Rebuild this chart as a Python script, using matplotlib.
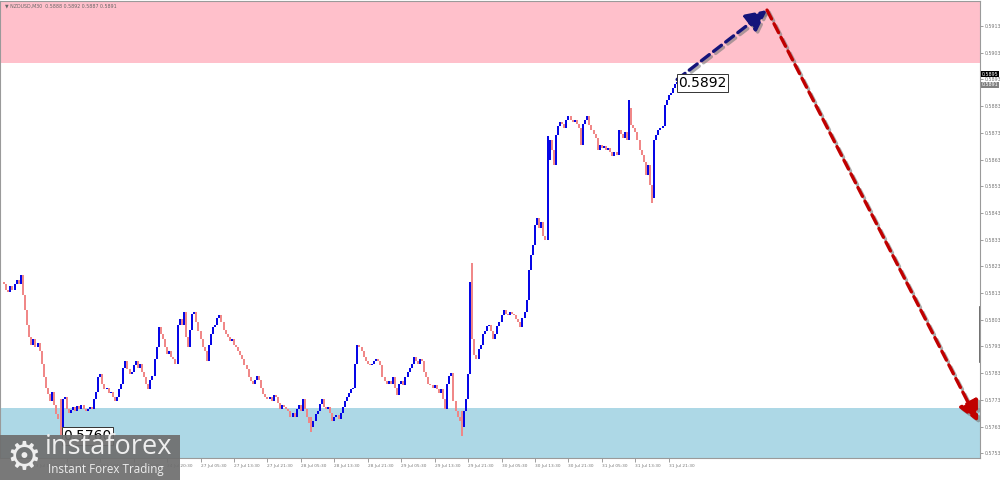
import matplotlib.pyplot as plt
import matplotlib.patheffects as pe
import matplotlib.transforms as mtransforms
from matplotlib.patches import Rectangle

# NZDUSD M30 closing prices
closes = [
    0.58173, 0.58162, 0.58143, 0.58135, 0.58158, 0.58143, 0.58165, 0.58177, 0.58162, 0.58199,
    0.58124, 0.58068, 0.58012, 0.57967, 0.57937, 0.57956, 0.57926, 0.57941, 0.57911, 0.57863,
    0.57814, 0.57776, 0.57750, 0.57724, 0.57761, 0.57709, 0.57676, 0.57657, 0.57627, 0.57732,
    0.57739, 0.57694, 0.57679, 0.57691, 0.57702, 0.57687, 0.57705, 0.57694, 0.57709, 0.57694,
    0.57687, 0.57694, 0.57702, 0.57694, 0.57732, 0.57761, 0.57814, 0.57825, 0.57788, 0.57769,
    0.57776, 0.57754, 0.57761, 0.57739, 0.57724, 0.57739, 0.57769, 0.57788, 0.57851, 0.57874,
    0.57844, 0.57825, 0.57836, 0.57859, 0.57874, 0.57851, 0.57866, 0.57836, 0.57814, 0.57788,
    0.57769, 0.57806, 0.57821, 0.57881, 0.57926, 0.58001, 0.57975, 0.57956, 0.57926, 0.57900,
    0.57911, 0.57889, 0.57881, 0.57866, 0.58012, 0.58031, 0.58012, 0.58060, 0.57964, 0.57926,
    0.57993, 0.58053, 0.58060, 0.58023, 0.57986, 0.57956, 0.57926, 0.57911, 0.57874, 0.57937,
    0.57975, 0.58001, 0.58012, 0.58038, 0.58046, 0.58023, 0.57993, 0.57978, 0.57964, 0.57949,
    0.57956, 0.57937, 0.57926, 0.57911, 0.57896, 0.57881, 0.57859, 0.57844, 0.57814, 0.57799,
    0.57791, 0.57806, 0.57821, 0.57806, 0.57776, 0.57750, 0.57739, 0.57732, 0.57739, 0.57724,
    0.57747, 0.57739, 0.57717, 0.57694, 0.57709, 0.57702, 0.57694, 0.57687, 0.57664, 0.57679,
    0.57664, 0.57694, 0.57709, 0.57687, 0.57732, 0.57694, 0.57664, 0.57642, 0.57627, 0.57649,
    0.57676, 0.57687, 0.57713, 0.57732, 0.57702, 0.57694, 0.57702, 0.57679, 0.57649, 0.57664,
    0.57672, 0.57657, 0.57679, 0.57702, 0.57724, 0.57739, 0.57754, 0.57769, 0.57776, 0.57863,
    0.57937, 0.57926, 0.57911, 0.57889, 0.57874, 0.57866, 0.57859, 0.57863, 0.57874, 0.57881,
    0.57874, 0.57859, 0.57814, 0.57799, 0.57791, 0.57799, 0.57788, 0.57814, 0.57776, 0.57747,
    0.57791, 0.57799, 0.57784, 0.57814, 0.57836, 0.57851, 0.57866, 0.57889, 0.57874, 0.57863,
    0.57881, 0.57874, 0.57836, 0.57814, 0.57791, 0.57784, 0.57776, 0.57784, 0.57769, 0.57754,
    0.57769, 0.57732, 0.57694, 0.57788, 0.57821, 0.57829, 0.57724, 0.57687, 0.57664, 0.57649,
    0.57627, 0.57687, 0.57732, 0.57825, 0.58173, 0.57956, 0.57896, 0.57881, 0.57919, 0.57934,
    0.57975, 0.57986, 0.58008, 0.58012, 0.57986, 0.57956, 0.57975, 0.58008, 0.58023, 0.58046,
    0.58068, 0.58053, 0.58049, 0.58060, 0.58053, 0.58046, 0.58031, 0.58023, 0.58001, 0.58038,
    0.58060, 0.58105, 0.58218, 0.58274, 0.58311, 0.58386, 0.58412, 0.58375, 0.58397, 0.58345,
    0.58330, 0.58629, 0.58704, 0.58666, 0.58610, 0.58723, 0.58756, 0.58771, 0.58764, 0.58749,
    0.58779, 0.58794, 0.58779, 0.58771, 0.58779, 0.58764, 0.58749, 0.58685, 0.58764, 0.58779,
    0.58794, 0.58760, 0.58741, 0.58726, 0.58711, 0.58666, 0.58685, 0.58674, 0.58681, 0.58666,
    0.58674, 0.58659, 0.58644, 0.58659, 0.58648, 0.58741, 0.58726, 0.58711, 0.58734, 0.58704,
    0.58824, 0.58760, 0.58749, 0.58734, 0.58704, 0.58666, 0.58648, 0.58622, 0.58573, 0.58610,
    0.58536, 0.58487, 0.58704, 0.58723, 0.58741, 0.58749, 0.58756, 0.58835, 0.58854, 0.58872,
    0.58880, 0.58898, 0.58913, 0.58920,
]

# bars whose wick sticks out past the open/close range
spike_bars = [28, 148, 220, 225, 261, 300, 311]
spike_highs = [0.57732, 0.57664, 0.57687, 0.58244, 0.58719, 0.58854, 0.58536]
spike_lows = [0.57600, 0.57608, 0.57593, 0.57956, 0.58330, 0.58760, 0.58468]

# target zones
sell_zone = (0.5899, 0.59224)
buy_zone = (0.57512, 0.5770)

# forecast arrows: (bar, price)
wave_up = [(323, 0.5893), (366, 0.5919)]
wave_down = [(366, 0.5919), (467, 0.57647)]

price_ticks = [0.5753, 0.5763, 0.5773, 0.5783, 0.5793, 0.5803, 0.5813, 0.5823,
               0.5833, 0.5843, 0.5853, 0.5863, 0.5873, 0.5883, 0.5893, 0.5903, 0.5913]
date_bars = [15, 31, 47, 63, 79, 95, 111, 127, 143, 159, 175, 191,
             207, 223, 239, 255, 271, 287, 303, 319]
date_labels = ['23 Jul 12:30', '23 Jul 20:30', '24 Jul 04:30', '24 Jul 12:30',
               '24 Jul 20:30', '27 Jul 05:30', '27 Jul 13:30', '27 Jul 21:30',
               '28 Jul 05:30', '28 Jul 13:30', '28 Jul 21:30', '29 Jul 05:30',
               '29 Jul 13:30', '29 Jul 21:30', '30 Jul 05:30', '30 Jul 13:30',
               '30 Jul 21:30', '31 Jul 05:30', '31 Jul 13:30', '31 Jul 21:30']

fig = plt.figure(figsize=(10, 4.8), dpi=100)
ax = fig.add_axes([0, 22 / 480, 0.98, 457 / 480])

ax.axhspan(*sell_zone, color='pink', zorder=0, lw=0)
ax.axhspan(*buy_zone, color='lightblue', zorder=0, lw=0)

opens = [closes[0]] + closes[:-1]
highs = [max(o, c) for o, c in zip(opens, closes)]
lows = [min(o, c) for o, c in zip(opens, closes)]
for b, h, l in zip(spike_bars, spike_highs, spike_lows):
    highs[b] = max(highs[b], h)
    lows[b] = min(lows[b], l)

up = [i for i in range(len(closes)) if closes[i] >= opens[i]]
down = [i for i in range(len(closes)) if closes[i] < opens[i]]
ax.vlines(up, [lows[i] for i in up], [highs[i] for i in up], color='#0000e6', lw=1.4, zorder=3)
ax.vlines(down, [lows[i] for i in down], [highs[i] for i in down], color='#f08585', lw=1.4, zorder=3)

shadow = [pe.SimpleLineShadow(offset=(1.5, -1.5), shadow_color='#777777', alpha=0.6), pe.Normal()]
for (p0, p1), col in [(wave_up, '#14147a'), (wave_down, '#c00000')]:
    ax.annotate('', xy=p1, xytext=p0,
                arrowprops=dict(arrowstyle='-|>,head_length=0.9,head_width=0.45',
                                color=col, lw=2.4, linestyle=(0, (3, 1.6)),
                                mutation_scale=14, shrinkA=0, shrinkB=0,
                                path_effects=shadow),
                zorder=6, annotation_clip=False)

# price labels at the wave ends
box = dict(boxstyle='square,pad=0.12', fc='white', ec='#333333', lw=0.7)
ax.text(323.5, 0.58917, '0.5892', fontsize=10, va='center', ha='left', bbox=box, zorder=7)
ax.text(29.3, 0.57594, '0.5760', fontsize=10, va='center', ha='left', bbox=box, zorder=7)

ax.set_xlim(-0.96, 467.9)
ax.set_ylim(0.57512, 0.59224)

ax.yaxis.tick_right()
ax.set_yticks(price_ticks)
ax.set_yticklabels([f'{p:.4f}' for p in price_ticks])
ax.tick_params(axis='y', labelsize=3.4, colors='#777777', length=2, width=0.5, pad=1.5)
ax.set_xticks(date_bars)
ax.set_xticklabels(date_labels, ha='left')
ax.tick_params(axis='x', labelsize=3.1, colors='#777777', length=3, width=0.5, pad=1.5)
for s in ax.spines.values():
    s.set_color('#9a9a9a')
    s.set_linewidth(0.8)

# bid / close markers on the price scale
trans = mtransforms.blended_transform_factory(ax.transAxes, ax.transData)
ax.text(1.002, 0.5895, '0.5895', transform=trans, fontsize=3.4, color='white', va='center',
        bbox=dict(boxstyle='square,pad=0.15', fc='black', ec='none'), clip_on=False, zorder=8)
ax.text(1.002, 0.5891, '0.5891', transform=trans, fontsize=3.4, color='white', va='center',
        bbox=dict(boxstyle='square,pad=0.15', fc='#808080', ec='none'), clip_on=False, zorder=8)
ax.plot([1.0, 1.0], [0.21, 0.33], transform=ax.transAxes, color='#555555', lw=1.2, clip_on=False)

fig.text(0.005, 1 - 6 / 480, '\u25bc NZDUSD,M30  0.5888 0.5892 0.5887 0.5891',
         fontsize=3.4, color='#666666', va='center')

# watermark
fig.add_artist(Rectangle((0, 0), 0.18, 45 / 480, transform=fig.transFigure,
                         facecolor='#6e6e6e', alpha=0.92, edgecolor='none', zorder=10))
fig.text(0.006, 0.046, '\u2699', fontsize=28, color='#eeeeee', va='center', zorder=11)
fig.text(0.045, 0.068, 'instaforex', fontsize=19.5, color='#eeeeee', va='center',
         family='Open Sans', zorder=11)
fig.text(0.048, 0.021, 'Instant Forex Trading', fontsize=8.4, color='#eeeeee', va='center',
         family='Open Sans', zorder=11)

fig.savefig('out.png', dpi=100, facecolor='white')
